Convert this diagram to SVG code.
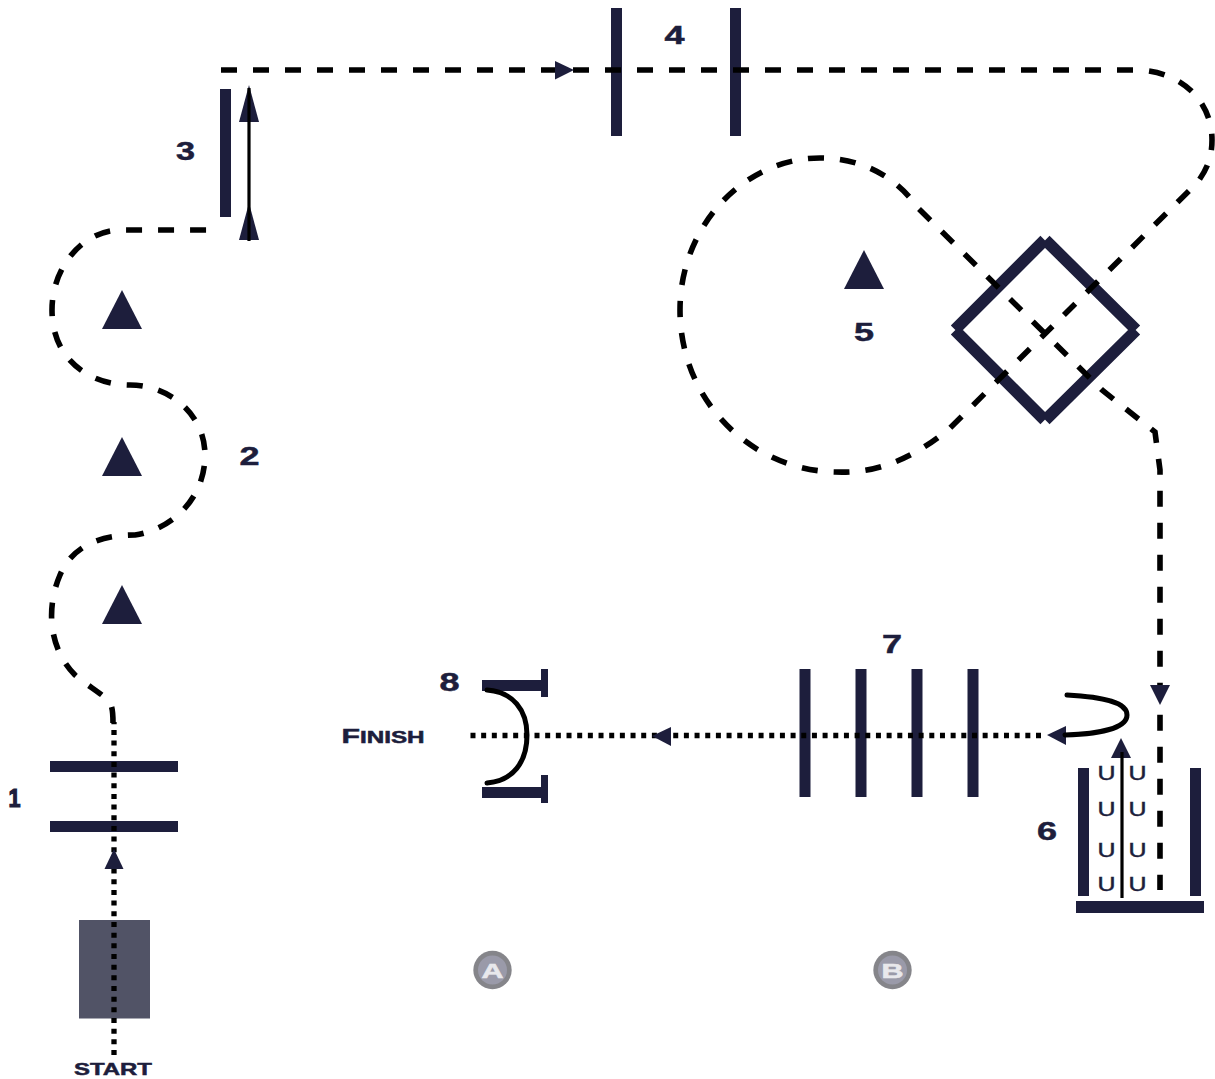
<svg xmlns="http://www.w3.org/2000/svg" width="1215" height="1079" viewBox="0 0 1215 1079">
<style>
.bar{fill:#1d1e3c}
.tri{fill:#1d1e3c}
.lbl{font-family:"Liberation Sans",Arial,sans-serif;font-weight:700;fill:#1d1e3c;stroke:#1d1e3c;stroke-width:.5;font-size:25px;text-anchor:middle}
.u{font-family:"Liberation Sans",Arial,sans-serif;font-weight:400;fill:#1d1e3c;stroke:#1d1e3c;stroke-width:.5;font-size:21px;text-anchor:middle}
.dash{fill:none;stroke:#000;stroke-width:5.600;stroke-dasharray:16 16}
.dot{fill:none;stroke:#000;stroke-width:5.300;stroke-dasharray:5 5.670}
.solid{fill:none;stroke:#000;stroke-width:3.200}
.curve{fill:none;stroke:#000;stroke-width:5;stroke-linecap:round}
.dia{stroke:#1d1e3c;stroke-width:11.800;fill:none}
.badge{fill:#85858a}
.badgei{fill:#9a9aa9}
.badget{font-family:"Liberation Sans",Arial,sans-serif;font-weight:700;fill:#e8e8ec;stroke:#e8e8ec;stroke-width:.6;font-size:21px;text-anchor:middle}
</style>
<g id="node-source">
<rect x="79" y="920" width="71" height="98.500" fill="#515366"/>
<text class="lbl" x="113" y="1075" style="font-size:17px" textLength="78" lengthAdjust="spacingAndGlyphs">START</text>
</g>
<g id="node-1">
<rect class="bar" x="50" y="761" width="128" height="11"/>
<rect class="bar" x="50" y="821" width="128" height="11"/>
<text class="lbl" x="14.500" y="807" style="stroke-width:1.200" textLength="12" lengthAdjust="spacingAndGlyphs">1</text>
</g>
<g id="node-2">
<polygon class="tri" points="122,290 142,329 102,329"/>
<polygon class="tri" points="122,437 142,476 102,476"/>
<polygon class="tri" points="122,585 142,624 102,624"/>
<text class="lbl" x="249.500" y="465" textLength="20" lengthAdjust="spacingAndGlyphs">2</text>
</g>
<g id="node-3">
<rect class="bar" x="220" y="89" width="11" height="128"/>
<text class="lbl" x="185.500" y="160" textLength="19" lengthAdjust="spacingAndGlyphs">3</text>
</g>
<g id="node-4">
<rect class="bar" x="611" y="8" width="11" height="128"/>
<rect class="bar" x="730" y="8" width="11" height="128"/>
<text class="lbl" x="674.500" y="44" textLength="20" lengthAdjust="spacingAndGlyphs">4</text>
</g>
<g id="node-5">
<polygon class="tri" points="864,250 884,289 844,289"/>
<path class="dia" d="M1044.600,240L955,329.600M1045.400,240L1136,329.600M1044.600,420L955,330.400M1045.400,420L1136,330.400"/>
<text class="lbl" x="864" y="341" textLength="20" lengthAdjust="spacingAndGlyphs">5</text>
</g>
<g id="node-6">
<rect class="bar" x="1078" y="768" width="11" height="128"/>
<rect class="bar" x="1190" y="768" width="11" height="128"/>
<rect class="bar" x="1076" y="901" width="128" height="12"/>
<text class="lbl" x="1047" y="840" textLength="20" lengthAdjust="spacingAndGlyphs">6</text>
<text class="u" x="1106.500" y="780" textLength="18" lengthAdjust="spacingAndGlyphs">U</text><text class="u" x="1137.500" y="780" textLength="18" lengthAdjust="spacingAndGlyphs">U</text>
<text class="u" x="1106.500" y="816" textLength="18" lengthAdjust="spacingAndGlyphs">U</text><text class="u" x="1137.500" y="816" textLength="18" lengthAdjust="spacingAndGlyphs">U</text>
<text class="u" x="1106.500" y="857" textLength="18" lengthAdjust="spacingAndGlyphs">U</text><text class="u" x="1137.500" y="857" textLength="18" lengthAdjust="spacingAndGlyphs">U</text>
<text class="u" x="1106.500" y="891" textLength="18" lengthAdjust="spacingAndGlyphs">U</text><text class="u" x="1137.500" y="891" textLength="18" lengthAdjust="spacingAndGlyphs">U</text>
</g>
<g id="node-7">
<rect class="bar" x="799.500" y="669" width="11" height="128"/>
<rect class="bar" x="855.500" y="669" width="11" height="128"/>
<rect class="bar" x="911.500" y="669" width="11" height="128"/>
<rect class="bar" x="967.500" y="669" width="11" height="128"/>
<text class="lbl" x="892" y="653" textLength="20" lengthAdjust="spacingAndGlyphs">7</text>
</g>
<g id="node-8">
<rect class="bar" x="482" y="680" width="66" height="11"/>
<rect class="bar" x="541" y="669" width="7" height="28"/>
<rect class="bar" x="482" y="787" width="66" height="11"/>
<rect class="bar" x="541" y="775" width="7" height="28"/>
<text class="lbl" x="449.500" y="691" textLength="20" lengthAdjust="spacingAndGlyphs">8</text>
<text class="lbl" x="383" y="743" style="font-size:20px" textLength="83" lengthAdjust="spacingAndGlyphs">F<tspan style="font-size:16px">INISH</tspan></text>
</g>
<g id="badge-a"><circle class="badge" cx="492.500" cy="970" r="19.200"/><circle class="badgei" cx="492.500" cy="970" r="14.500"/><text class="badget" x="492.500" y="978" textLength="22" lengthAdjust="spacingAndGlyphs">A</text></g>
<g id="badge-b"><circle class="badge" cx="892.500" cy="970" r="19.200"/><circle class="badgei" cx="892.500" cy="970" r="14.500"/><text class="badget" x="892.500" y="978" textLength="22" lengthAdjust="spacingAndGlyphs">B</text></g>
<g id="connectors">
<path class="dot" d="M114,1055V722"/>
<path class="dash" d="M113,723C113,704 110,703 107,699C96,690 84,683 75,675C50,650 45,610 60,575C75,540 110,535 135,535C170,530 205,500 205,455C205,415 170,385 130,385C90,385 52,360 52,310C52,265 85,230 120,230L220,230"/>
<path class="dash" d="M221,70H1135C1180,70 1212,100 1212,140C1212,160 1205,172 1197,183L950,428C900,470 860,473 835,472C750,470 680,400 680,310C680,225 745,158 820,158C860,158 895,175 918,208L1102,390L1155,432L1160,470V890"/>
<path class="dot" d="M1041,735.500H470"/>
<polygon class="tri" points="114,849 123.500,869 104.500,869"/>
<polygon class="tri" points="249,85 259,122 239,122"/>
<polygon class="tri" points="249,203 259,240 239,240"/>
<polygon class="tri" points="574,70 555,61 555,79.500"/>
<polygon class="tri" points="1160,705 1150,685 1170,685"/>
<polygon class="tri" points="1047,735 1066,726 1066,745"/>
<polygon class="tri" points="652,736 671,727 671,746"/>
<polygon class="tri" points="1121,738 1131,758 1111,758"/>
<path class="solid" d="M249,88V241"/>
<path class="solid" d="M1122,898V752"/>
<path class="curve" d="M1067,695C1105,697 1127,703 1127,715C1127,728 1100,734 1065,735"/>
<path class="curve" d="M487,690C513,692 527,710 527,735C527,762 513,781 487,783"/>
</g>
</svg>
